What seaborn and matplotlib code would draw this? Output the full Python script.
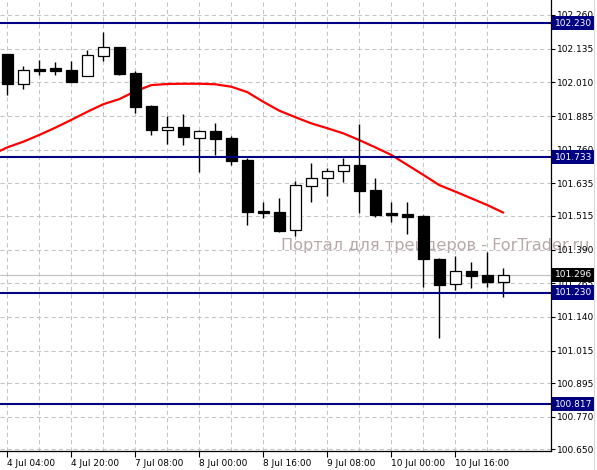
import numpy as np
import pandas as pd
import matplotlib
matplotlib.use("Agg")
import matplotlib.pyplot as plt
import matplotlib.transforms as mtransforms
from matplotlib.lines import Line2D
import seaborn as sns

# H4 candles
opens = [102.115, 102.005, 102.061, 102.065, 102.056, 102.035, 102.109, 102.141,
         102.044, 101.922, 101.835, 101.845, 101.805, 101.830, 101.804, 101.722,
         101.534, 101.529, 101.461, 101.627, 101.657, 101.680, 101.704, 101.611,
         101.526, 101.522, 101.514, 101.355, 101.261, 101.310, 101.296, 101.269]
highs = [102.117, 102.071, 102.094, 102.086, 102.090, 102.130, 102.198, 102.143,
         102.052, 101.926, 101.885, 101.893, 101.833, 101.861, 101.811, 101.730,
         101.565, 101.580, 101.644, 101.710, 101.691, 101.731, 101.856, 101.655,
         101.565, 101.566, 101.518, 101.360, 101.366, 101.344, 101.381, 101.323]
lows = [101.963, 101.987, 102.037, 102.037, 102.013, 102.035, 102.090, 102.037,
        101.898, 101.815, 101.782, 101.778, 101.679, 101.741, 101.704, 101.481,
        101.508, 101.456, 101.440, 101.567, 101.589, 101.642, 101.527, 101.512,
        101.493, 101.448, 101.252, 101.061, 101.240, 101.247, 101.252, 101.213]
closes = [102.005, 102.056, 102.053, 102.052, 102.013, 102.111, 102.140, 102.041,
          101.920, 101.833, 101.843, 101.809, 101.830, 101.800, 101.720, 101.530,
          101.527, 101.460, 101.628, 101.654, 101.680, 101.702, 101.608, 101.518,
          101.519, 101.512, 101.354, 101.259, 101.310, 101.293, 101.269, 101.296]

# moving average (starts one bar before the first visible candle)
ma_values = [101.741, 101.769, 101.790, 101.815, 101.842, 101.871, 101.901, 101.929,
             101.948, 101.977, 102.000, 102.004, 102.005, 102.005, 102.003, 101.994,
             101.974, 101.938, 101.905, 101.881, 101.858, 101.840, 101.821, 101.796,
             101.769, 101.741, 101.704, 101.667, 101.629, 101.605, 101.580, 101.555,
             101.527]

time_labels = ["4 Jul 04:00", "4 Jul 20:00", "7 Jul 08:00", "8 Jul 00:00",
               "8 Jul 16:00", "9 Jul 08:00", "10 Jul 00:00", "10 Jul 16:00"]
price_ticks = [102.260, 102.135, 102.010, 101.885, 101.760, 101.635, 101.515,
               101.390, 101.265, 101.140, 101.015, 100.895, 100.770, 100.650]
level_lines = [102.230, 101.733, 101.230, 100.817]
bid_price = 101.296

df = pd.DataFrame({"open": opens, "high": highs, "low": lows, "close": closes})
df["bar"] = np.arange(len(df))
ma_df = pd.DataFrame({"bar": np.arange(-1, len(ma_values) - 1), "ma": ma_values})

sns.set_style("white")
plt.rcParams["font.family"] = ["DejaVu Sans"]

W, H = 597, 470
fig = plt.figure(figsize=(W / 100, H / 100), dpi=100, facecolor="white")
ax = fig.add_axes([0, 1 - 451 / H, 551 / W, 451 / H])
ax.set_facecolor("none")

# watermark behind everything
fig.text(281 / W, 1 - 245 / H, "Портал для трейдеров - ForTrader.ru",
         fontsize=11.6, color="#b8a9a9", va="center", ha="left", zorder=-1)

grid_kw = dict(color="#c4c4c4", linewidth=0.75, linestyle=(0, (4, 3)))

# moving average
sns.lineplot(data=ma_df, x="bar", y="ma", ax=ax, color="#ff0000", linewidth=1.6,
             zorder=2, legend=False)

# candles
up = df["close"] >= df["open"]
ax.vlines(df["bar"], df["low"], df["high"], color="black", linewidth=1.0, zorder=3)
body_bottom = df[["open", "close"]].min(axis=1)
body_height = (df["close"] - df["open"]).abs().clip(lower=0.004)
ax.bar(df["bar"], body_height, bottom=body_bottom, width=0.66,
       color=np.where(up, "white", "black"), edgecolor="black", linewidth=0.9,
       zorder=4)

# bid line and horizontal levels
ax.axhline(bid_price, color="#c0c0c0", linewidth=0.8, zorder=1.5)
for lv in level_lines:
    ax.axhline(lv, color="#000080", linewidth=1.5, zorder=6)

ax.set_xlim(-0.456, 33.98)
ax.set_ylim(100.6428, 102.3156)

ax.set_xticks(range(0, 32, 4))
ax.set_xticklabels(time_labels)
ax.set_xticks(range(2, 32, 4), minor=True)
ax.set_yticks(price_ticks)
ax.set_yticklabels([f"{p:.3f}" for p in price_ticks])
ax.yaxis.tick_right()
ax.set_xlabel("")
ax.set_ylabel("")

ax.tick_params(axis="y", which="major", direction="out", length=3, width=0.8,
               pad=1.5, labelsize=6.5, colors="black", right=True, left=False)
ax.tick_params(axis="x", which="major", direction="out", length=4, width=0.8,
               pad=1.5, labelsize=6.5, colors="black", bottom=True)
ax.tick_params(axis="x", which="minor", length=0)
for lbl in ax.get_xticklabels():
    lbl.set_ha("left")

ax.grid(True, axis="x", which="both", **grid_kw)
ax.grid(True, axis="y", which="major", **grid_kw)
ax.set_axisbelow(True)

for side in ["left", "top"]:
    ax.spines[side].set_visible(False)
for side in ["right", "bottom"]:
    ax.spines[side].set_color("black")
    ax.spines[side].set_linewidth(0.9)

# price labels on the right scale
trans = mtransforms.blended_transform_factory(ax.transAxes, ax.transData)
for lv, fc in [(v, "#000080") for v in level_lines] + [(bid_price, "black")]:
    ax.text(555 / 551, lv, f"{lv:.3f}", transform=trans, ha="left", va="center",
            fontsize=6.5, color="white", zorder=10, clip_on=False,
            bbox=dict(boxstyle="square,pad=0.3", fc=fc, ec="none"))

fig.add_artist(Line2D([593.5 / W, 593.5 / W], [0, 1], color="#d8d8d8",
                      linewidth=0.8, transform=fig.transFigure))

fig.savefig("out.png", dpi=100, facecolor="white")
